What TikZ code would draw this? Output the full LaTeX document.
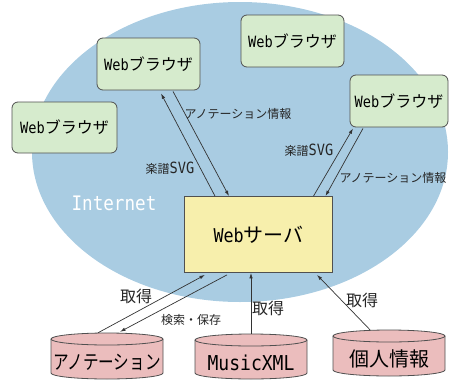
\documentclass[tikz,border=0pt]{standalone}
\usepackage{fontspec}
\setmainfont{Noto Sans CJK JP}
\newfontfamily\lat[FakeStretch=0.88]{DejaVu Sans Mono}
\newfontfamily\jpn[FakeStretch=0.78]{Noto Sans CJK JP}
\usetikzlibrary{arrows.meta}
\definecolor{netblue}{HTML}{A9CCE2}
\definecolor{browsergreen}{HTML}{D6EBCD}
\definecolor{serveryellow}{HTML}{F7EFAC}
\definecolor{dbpink}{HTML}{EBBDBD}
\definecolor{edgegray}{HTML}{505050}
\definecolor{linegray}{HTML}{333333}
\newcommand\latx[2]{{\fontsize{#1pt}{#1pt}\lat #2}}
\newcommand\drawcyl[4]{% cx, r, ytop, ybot
  \draw[cylsty] ({#1-#2},{#3+6}) -- ({#1-#2},{#4-6})
    arc[start angle=180,end angle=0,x radius=#2,y radius=6]
    -- ({#1+#2},{#3+6})
    arc[start angle=0,end angle=-180,x radius=#2,y radius=6] -- cycle;
  \draw[cylsty,fill=none] ({#1-#2},{#3+6}) arc[start angle=180,end angle=0,x radius=#2,y radius=6];}
\begin{document}
\begin{tikzpicture}[x=1pt,y=-1pt,
  browser/.style={draw=edgegray, line width=0.8pt, rounded corners=6pt, fill=browsergreen,
    inner sep=0pt, minimum width=103pt, minimum height=52pt,
    font=\fontsize{16pt}{16pt}\selectfont},
  server/.style={draw=edgegray, line width=0.8pt, fill=serveryellow, inner sep=0pt,
    minimum width=148pt, minimum height=76pt, font=\fontsize{20pt}{20pt}\selectfont},
  cylsty/.style={draw=edgegray, line width=0.8pt, fill=dbpink},
  dbtext/.style={inner sep=0pt, minimum width=112pt, minimum height=58pt,
    font=\fontsize{20pt}{20pt}\selectfont},
  arr/.style={draw=linegray, line width=0.7pt, -{Latex[length=5.5pt,width=3.5pt]}},
  lab/.style={inner sep=0pt, font=\fontsize{12pt}{14pt}\selectfont, text=black!85},
  biglab/.style={inner sep=0pt, font=\fontsize{16pt}{16pt}\selectfont, text=black!85}
]
\useasboundingbox (0,0) rectangle (449,380);
% Internet cloud
\fill[netblue] (240,152) ellipse[x radius=208, y radius=150];
\node[inner sep=0pt, text=white] (inet) at (114,203) {\latx{20}{Internet}};

% browsers
\node[browser] (b1) at (148.5,64) {\latx{15.5}{Web}ブラウザ};
\node[browser, minimum width=105pt, minimum height=51pt] (b2) at (64.5,127.5) {\latx{15.5}{Web}ブラウザ};
\node[browser] (b3) at (292.5,41) {\latx{15.5}{Web}ブラウザ};
\node[browser, minimum width=98pt] (b4) at (399,101) {\latx{15.5}{Web}ブラウザ};

% server
\node[server] (srv) at (258.5,234.5) {\latx{19}{Web}サーバ};

% databases
\drawcyl{107}{56}{333}{379}
\drawcyl{251}{56}{334}{379}
\drawcyl{389}{56}{330}{376}
\node[dbtext] (c1) at (107,362) {\jpn\fontsize{20pt}{20pt}\selectfont アノテーション};
\node[dbtext] (c2) at (251,363) {\latx{20.5}{MusicXML}};
\node[dbtext] (c3) at (389,359) {個人情報};

% connectors browser 1
\draw[arr] ([xshift=-43.5pt]srv.north) -- ([xshift=12.5pt,yshift=-3pt]b1.south);
\draw[arr] ([xshift=24.5pt,yshift=-1pt]b1.south) -- ([xshift=-29.5pt]srv.north);
% connectors browser 4
\draw[arr] ([xshift=55pt]srv.north) -- ([xshift=-46pt,yshift=-1pt]b4.south);
\draw[arr] ([xshift=-36pt,yshift=-1pt]b4.south) -- ([xshift=67pt]srv.north);
% connectors databases
\draw[arr] ([xshift=-9pt]c1.north) -- ([xshift=-53.5pt,yshift=-2pt]srv.south);
\draw[arr] ([xshift=-31.5pt,yshift=-2pt]srv.south) -- ([xshift=13pt,yshift=1pt]c1.north);
\draw[arr] (c2.north) -- ([xshift=-7.5pt]srv.south);
\draw[arr] ([xshift=-19pt]c3.north) -- ([xshift=58.5pt,yshift=-2pt]srv.south);

% labels
\node[lab] (l1) at (170,168) {楽譜\latx{15.5}{SVG}};
\node[lab] (l2) at (238,114) {アノテーション情報};
\node[lab] (l3) at (309,150) {楽譜\latx{15.5}{SVG}};
\node[lab] (l4) at (393,178) {アノテーション情報};
\node[biglab] (l5) at (136,296) {取得};
\node[lab] (l6) at (191,320) {検索・保存};
\node[biglab] (l7) at (268,308) {取得};
\node[biglab] (l8) at (362,300) {取得};
\end{tikzpicture}
\end{document}
